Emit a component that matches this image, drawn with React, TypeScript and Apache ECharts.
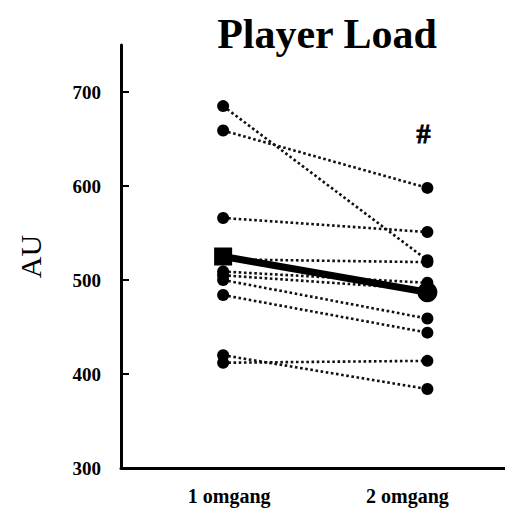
import React, { useEffect, useRef } from "react";
import * as echarts from "echarts";

const categories = ["1 omgang", "2 omgang"];
const round1 = [685, 659, 566, 522, 509, 505, 500, 484, 420, 412];
const round2 = [521, 598, 551, 519, 497, 490, 459, 444, 384, 414];
const meanValues = [525, 487];
const yTicks = [300, 400, 500, 600, 700];
const markText = "#";
const markValue = 656;

const FONT = "Liberation Serif";

export default function App() {
  const ref = useRef<HTMLDivElement>(null);
  useEffect(() => {
    if (!ref.current) return;
    const chart = echarts.init(ref.current, undefined, { renderer: "svg" });
    const playerSeries = round1.map((v, i) => ({
      type: "line",
      data: [
        [1, v],
        [2, round2[i]],
      ],
      symbol: "circle",
      symbolSize: 12,
      itemStyle: { color: "#000", opacity: 1 },
      lineStyle: { color: "#111", width: 2.6, type: [2.6, 2.6] },
      z: 2,
    }));
    chart.setOption({
      animation: false,
      backgroundColor: "#fff",
      title: {
        text: "Player Load",
        left: 322,
        top: 8,
        textAlign: "center",
        textStyle: { fontFamily: FONT, fontSize: 42, fontWeight: "bold", color: "#000" },
      },
      grid: { left: 121, right: 0, top: 45, bottom: 40 },
      xAxis: {
        type: "value",
        min: 0.5,
        max: 2.38,
        interval: 0.5,
        splitLine: { show: false },
        axisTick: { show: false },
        axisLine: { show: true, onZero: false, lineStyle: { color: "#000", width: 3 } },
        axisLabel: {
          margin: 18,
          showMaxLabel: false,
          showMinLabel: false,
          formatter: (v: number) => {
            if (Math.abs(v - 1) < 1e-6) return "{a|" + categories[0] + "}";
            if (Math.abs(v - 2) < 1e-6) return "{b|" + categories[1] + "}";
            return "";
          },
          rich: {
            a: { fontFamily: FONT, fontSize: 20, fontWeight: "bold", color: "#000", padding: [0, 0, 0, 12] },
            b: { fontFamily: FONT, fontSize: 20, fontWeight: "bold", color: "#000", padding: [0, 40, 0, 0] },
          },
        },
      },
      yAxis: {
        type: "value",
        min: 300,
        max: 750,
        interval: 100,
        name: "AU",
        nameLocation: "middle",
        nameGap: 76,
        nameRotate: 90,
        nameTextStyle: { fontFamily: FONT, fontSize: 30, color: "#000" },
        splitLine: { show: false },
        axisLine: { show: true, lineStyle: { color: "#000", width: 3 } },
        axisTick: { show: true, inside: true, length: 8, lineStyle: { color: "#000", width: 2 } },
        axisLabel: {
          margin: 20,
          showMaxLabel: false,
          fontFamily: FONT,
          fontSize: 19,
          fontWeight: "bold",
          color: "#000",
          formatter: (v: number) => (yTicks.includes(v) ? String(v) : ""),
        },
      },
      series: [
        ...playerSeries,
        {
          type: "line",
          data: [
            [1, meanValues[0]],
            [2, meanValues[1]],
          ],
          symbol: "none",
          lineStyle: { color: "#000", width: 7 },
          z: 5,
        },
        {
          type: "scatter",
          data: [[1, meanValues[0]]],
          symbol: "rect",
          symbolSize: 18,
          itemStyle: { color: "#000", opacity: 1 },
          z: 6,
        },
        {
          type: "scatter",
          data: [[2, meanValues[1]]],
          symbol: "circle",
          symbolSize: 20,
          itemStyle: { color: "#000", opacity: 1 },
          z: 6,
        },
        {
          type: "scatter",
          data: [[2, markValue]],
          symbolSize: 0,
          itemStyle: { color: "rgba(0,0,0,0)", opacity: 1 },
          label: {
            show: true,
            position: "inside",
            formatter: markText,
            fontFamily: FONT,
            fontSize: 28,
            fontWeight: "bold",
            color: "#000",
            textBorderColor: "#000",
            textBorderWidth: 0.8,
            offset: [-4, 0],
          },
        },
      ],
    });
    return () => chart.dispose();
  }, []);
  return <div ref={ref} style={{ width: 505, height: 508, position: "absolute", left: 0, top: 0 }} />;
}
